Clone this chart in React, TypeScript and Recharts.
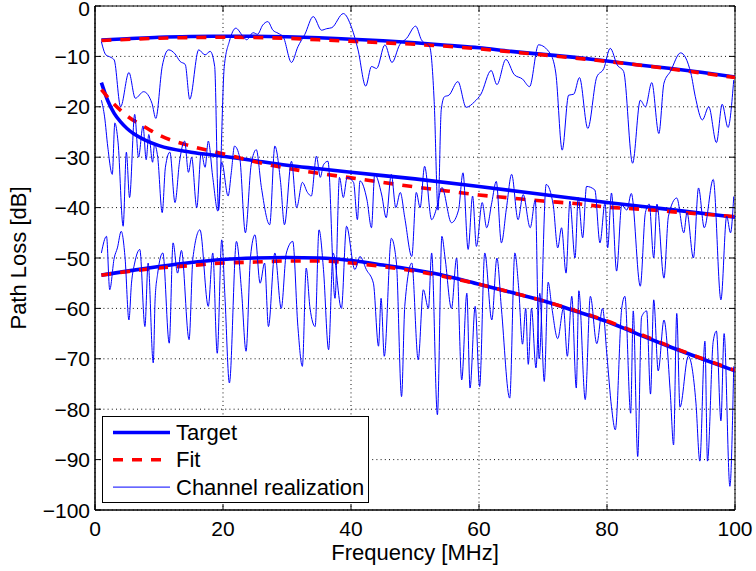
import React from 'react';
import { LineChart, Line, XAxis, YAxis, CartesianGrid, Legend, ReferenceArea, Label } from 'recharts';

const FONT = '"Liberation Sans", Arial, Helvetica, sans-serif';

// ---------- axis ticks ----------
const X_TICKS = [0, 20, 40, 60, 80, 100];
const Y_TICKS = [-100, -90, -80, -70, -60, -50, -40, -30, -20, -10, 0];

// ---------- target curves [MHz, dB] ----------
const TARGET_TOP: [number, number][] = [
  [1, -6.75], [5, -6.5], [10, -6.2], [15, -6.05], [20, -6.0], [25, -6.0], [30, -6.1], [35, -6.3],
  [40, -6.6], [45, -6.9], [50, -7.3], [55, -7.8], [60, -8.3], [65, -9.0], [70, -9.6], [75, -10.2],
  [80, -10.9], [85, -11.7], [90, -12.4], [95, -13.2], [100, -14.1],
];
const TARGET_MID: [number, number][] = [
  [1, -15.2], [2, -18.8], [3, -21.3], [4, -23.0], [5, -24.3], [6, -25.3], [8, -26.7], [10, -27.7],
  [15, -29.0], [20, -29.8], [25, -30.7], [30, -31.6], [35, -32.3], [40, -33.0], [50, -34.3],
  [60, -35.8], [70, -37.4], [80, -39.0], [90, -40.4], [100, -41.9],
];
const TARGET_LOW: [number, number][] = [
  [1, -53.4], [5, -52.6], [10, -51.7], [15, -50.9], [20, -50.3], [25, -50.0], [30, -49.9], [35, -50.0],
  [40, -50.5], [45, -51.4], [50, -52.4], [55, -53.6], [60, -55.2], [65, -56.8], [70, -58.5], [75, -60.5],
  [80, -62.6], [85, -65.2], [90, -67.7], [95, -70.1], [100, -72.4],
];

// ---------- fitted curves ----------
const FIT_TOP: [number, number][] = [
  [1, -6.85], [10, -6.4], [20, -6.2], [30, -6.4], [35, -6.7], [40, -7.0], [45, -7.3], [50, -7.6],
  [55, -8.0], [60, -8.5], [65, -9.1], [70, -9.7], [80, -11.0], [90, -12.5], [100, -14.2],
];
const FIT_MID: [number, number][] = [
  [1, -16.6], [3, -19.5], [5, -21.8], [7.5, -23.8], [10, -25.6], [15, -27.8], [20, -29.3], [25, -30.9],
  [30, -32.2], [35, -33.2], [40, -34.1], [45, -35.0], [50, -35.9], [55, -36.7], [60, -37.5], [65, -38.1],
  [70, -38.7], [75, -39.2], [80, -39.9], [85, -40.3], [90, -40.8], [95, -41.3], [100, -41.8],
];
const FIT_LOW: [number, number][] = [
  [1, -53.4], [5, -52.7], [10, -52.0], [15, -51.5], [20, -51.0], [25, -50.8], [30, -50.6], [35, -50.6],
  [40, -51.0], [45, -51.7], [50, -52.6], [55, -53.8], [60, -55.2], [65, -56.8], [70, -58.5], [75, -60.4],
  [80, -62.5], [85, -65.0], [90, -67.6], [95, -70.0], [100, -72.3],
];

// ---------- channel realizations ----------
const REAL_TOP: [number, number][] = [
  [1.0, -7.1], [1.7, -9.7], [2.5, -10.2], [3.0, -10.7], [4.0, -20.0], [5.3, -13.2], [6.3, -18.3], [7.6, -17.0],
  [8.9, -19.3], [9.5, -22.3], [10.5, -12.0], [11.5, -8.7], [12.5, -9.5], [13.3, -11.0], [14.1, -11.6], [14.8, -18.5],
  [16.2, -8.7], [17.2, -9.7], [18.0, -9.0], [18.7, -12.0], [19.3, -40.5], [20.2, -12.0], [21.0, -7.0], [22.0, -4.4],
  [23.0, -5.8], [23.7, -6.7], [24.7, -5.3], [25.4, -5.6], [26.2, -3.8], [27.0, -3.1], [27.8, -4.8], [28.6, -5.4],
  [29.4, -6.1], [30.7, -11.2], [31.7, -8.1], [32.8, -5.6], [34.1, -2.1], [35.4, -4.8], [36.2, -4.5], [37.0, -4.3],
  [38.8, -1.5], [40.1, -4.3], [41.1, -8.7], [42.3, -15.9], [43.2, -12.0], [44.0, -12.4], [45.3, -7.7], [46.4, -11.2],
  [47.6, -7.7], [48.7, -6.4], [50.1, -4.0], [51.0, -6.7], [52.3, -8.1], [53.0, -19.0], [53.6, -40.5], [54.1, -20.6],
  [54.6, -18.0], [55.3, -17.7], [56.7, -15.0], [58.0, -20.1], [59.3, -19.0], [60.3, -17.5], [61.9, -12.8], [62.8, -15.6],
  [64.2, -10.6], [65.5, -13.6], [66.8, -14.5], [67.9, -16.0], [69.3, -7.7], [71.1, -9.4], [72.0, -13.3], [73.0, -28.6],
  [74.0, -17.7], [74.8, -17.5], [75.7, -14.2], [77.0, -24.3], [78.4, -14.1], [79.5, -12.4], [80.5, -8.4], [81.6, -11.7],
  [82.6, -13.0], [84.0, -31.2], [85.2, -18.7], [86.0, -20.0], [87.0, -15.2], [88.1, -25.3], [88.9, -15.3], [89.9, -13.0],
  [91.5, -9.3], [93.1, -13.3], [93.8, -18.0], [94.9, -22.6], [95.9, -20.0], [97.1, -27.1], [98.0, -19.5], [98.9, -24.1],
  [99.8, -14.7],
];
const REAL_MID: [number, number][] = [
  [1.0, -18.7], [1.5, -22.0], [2.0, -28.0], [2.7, -33.4], [3.1, -23.2], [3.6, -27.0], [4.4, -43.7], [4.9, -29.0],
  [5.4, -38.0], [6.2, -21.5], [6.8, -30.0], [7.5, -23.8], [8.0, -30.5], [8.4, -25.5], [9.0, -31.0], [9.3, -27.5],
  [9.8, -30.0], [10.5, -41.0], [11.0, -32.0], [11.7, -29.0], [12.5, -39.0], [13.2, -31.0], [14.0, -26.8], [14.6, -33.0],
  [15.1, -30.0], [15.9, -40.0], [16.6, -29.0], [17.2, -32.0], [17.7, -26.8], [18.4, -34.0], [19.2, -40.7], [19.8, -31.0],
  [20.8, -37.7], [21.3, -33.0], [21.8, -27.8], [22.6, -30.0], [23.5, -45.0], [24.4, -31.5], [25.2, -28.5], [26.0, -36.0],
  [27.3, -43.4], [28.1, -27.8], [29.0, -35.0], [29.6, -43.4], [30.7, -30.8], [31.5, -40.0], [32.4, -35.0], [33.2, -37.0],
  [33.8, -37.7], [34.6, -29.8], [35.2, -34.0], [35.7, -31.5], [36.4, -30.8], [37.5, -58.0], [38.2, -34.0], [38.8, -38.0],
  [39.4, -34.0], [40.4, -35.0], [41.0, -42.4], [41.4, -34.7], [42.5, -38.5], [43.2, -44.0], [43.7, -33.4], [44.8, -37.5],
  [45.5, -42.0], [46.3, -33.4], [47.0, -40.0], [47.7, -37.0], [48.4, -42.0], [49.5, -49.7], [50.2, -37.0], [50.8, -40.0],
  [51.5, -31.8], [52.6, -42.4], [53.4, -40.0], [54.2, -36.0], [55.7, -43.0], [56.8, -40.5], [57.5, -33.1], [58.3, -48.3],
  [59.0, -37.7], [59.6, -47.7], [60.5, -39.0], [61.2, -44.0], [62.0, -39.0], [62.7, -34.8], [63.5, -47.0], [64.3, -40.0],
  [65.1, -33.4], [66.1, -42.4], [66.9, -37.4], [68.0, -44.0], [68.8, -38.5], [69.4, -70.0], [70.5, -35.4], [71.6, -39.5],
  [72.3, -48.0], [72.9, -44.0], [73.6, -53.0], [74.2, -38.7], [75.0, -50.0], [75.5, -38.0], [76.2, -46.0], [76.8, -35.8],
  [78.1, -36.5], [78.9, -47.0], [79.7, -39.0], [80.1, -48.0], [80.7, -37.1], [81.5, -52.6], [82.3, -39.5], [83.1, -40.5],
  [83.8, -37.2], [85.2, -55.6], [86.0, -41.0], [86.6, -39.3], [87.3, -50.0], [87.8, -39.3], [88.9, -54.0], [89.6, -41.7],
  [90.9, -38.1], [92.0, -45.0], [92.5, -41.0], [93.5, -50.0], [94.3, -36.1], [95.2, -44.0], [96.6, -34.4], [97.8, -58.3],
  [98.7, -41.7], [99.3, -45.0], [99.8, -37.8],
];
const REAL_LOW: [number, number][] = [
  [1.0, -49.0], [1.8, -45.7], [2.3, -56.3], [3.0, -50.0], [3.5, -48.0], [4.1, -44.7], [4.7, -50.0], [5.3, -62.3],
  [5.7, -55.0], [6.2, -51.0], [7.0, -48.3], [7.8, -63.6], [8.3, -51.0], [9.1, -70.8], [9.4, -58.0], [9.8, -53.0],
  [10.6, -49.0], [11.6, -66.9], [12.2, -47.0], [12.9, -53.0], [13.5, -48.5], [14.7, -66.2], [15.3, -50.0], [16.4, -44.4],
  [17.7, -59.6], [18.4, -49.0], [19.1, -68.9], [19.8, -46.4], [20.3, -57.6], [21.0, -74.8], [22.1, -46.7], [22.9, -56.6],
  [23.6, -68.5], [24.3, -49.7], [25.0, -45.4], [25.8, -55.0], [26.5, -51.0], [27.1, -63.6], [28.1, -49.0], [29.1, -60.0],
  [29.9, -49.0], [30.9, -46.7], [31.7, -63.6], [32.4, -71.5], [33.0, -52.0], [33.6, -60.0], [34.4, -63.6], [35.0, -44.4],
  [35.7, -52.3], [36.5, -68.2], [37.2, -49.0], [38.5, -60.0], [39.3, -43.7], [40.6, -52.3], [41.4, -49.7], [42.4, -52.3],
  [43.5, -55.0], [44.3, -67.5], [44.7, -58.0], [45.2, -69.5], [46.3, -46.1], [47.1, -51.0], [47.9, -77.5], [48.4, -59.6],
  [49.5, -51.0], [50.5, -70.2], [51.3, -56.3], [52.1, -60.0], [52.6, -49.0], [53.5, -81.1], [54.2, -45.7], [54.7, -50.0],
  [55.7, -60.0], [56.5, -50.0], [57.3, -74.2], [58.1, -57.0], [58.6, -75.8], [59.4, -59.6], [60.1, -75.5], [60.9, -49.0],
  [62.0, -62.3], [62.8, -50.0], [63.5, -60.0], [64.8, -77.8], [65.6, -49.0], [66.2, -56.0], [66.8, -67.1], [67.3, -60.0],
  [67.7, -71.1], [68.2, -60.0], [68.9, -71.8], [69.5, -57.0], [70.2, -74.5], [70.8, -54.8], [71.4, -60.0], [72.3, -66.0],
  [73.2, -60.0], [73.8, -69.5], [74.5, -57.6], [75.2, -75.8], [75.6, -56.5], [76.6, -78.1], [77.4, -57.6], [78.4, -67.0],
  [79.3, -60.0], [80.0, -69.5], [80.7, -79.5], [81.3, -84.1], [82.3, -60.0], [82.8, -57.6], [83.7, -80.8], [84.1, -60.5],
  [84.8, -89.4], [85.4, -61.7], [86.2, -60.5], [86.8, -77.0], [87.3, -58.3], [88.0, -72.4], [88.9, -62.3], [89.9, -77.0],
  [90.4, -87.1], [90.9, -61.0], [91.4, -79.6], [92.7, -69.5], [93.9, -78.8], [94.5, -90.3], [95.3, -66.5], [95.7, -90.3],
  [96.6, -66.5], [97.1, -64.5], [97.8, -82.3], [98.3, -65.0], [99.2, -95.3], [99.8, -71.5],
];

const LEGEND_ORDER = ['Target', 'Fit', 'Channel realization'];

const toPts = (arr: [number, number][]) => arr.map(([f, v]) => ({ f, v }));

// plot frame (derived from chart margins + axis sizes)
const W = 756;
const H = 571;
const MARGIN = { top: 6, right: 21, bottom: 0, left: 0 };
const Y_AXIS_W = 95;
const X_AXIS_H = 61;
const PLOT = {
  left: MARGIN.left + Y_AXIS_W,
  right: W - MARGIN.right,
  top: MARGIN.top,
  bottom: H - MARGIN.bottom - X_AXIS_H,
};
const TICK_LEN = 6;
const TICK_FS = 21;
const LABEL_FS = 22;

const fmt = (v: number) => (v < 0 ? `\u2212${Math.abs(v)}` : `${v}`);

function XTick(props: any) {
  const { x, payload } = props;
  return (
    <g>
      <line x1={x} x2={x} y1={PLOT.bottom} y2={PLOT.bottom - TICK_LEN} stroke="#000" strokeWidth={1} />
      <line x1={x} x2={x} y1={PLOT.top} y2={PLOT.top + TICK_LEN} stroke="#000" strokeWidth={1} />
      <text x={x} y={PLOT.bottom + 26} textAnchor="middle" fontSize={TICK_FS} fontFamily={FONT} fill="#000">
        {fmt(payload.value)}
      </text>
    </g>
  );
}

function YTick(props: any) {
  const { y, payload } = props;
  const isTop = Math.abs(y - PLOT.top) < 1;
  return (
    <g>
      <line x1={PLOT.left} x2={PLOT.left + TICK_LEN} y1={y} y2={y} stroke="#000" strokeWidth={1} />
      <line x1={PLOT.right} x2={PLOT.right - TICK_LEN} y1={y} y2={y} stroke="#000" strokeWidth={1} />
      <text x={PLOT.left - 5} y={y + (isTop ? 10 : 7.5)} textAnchor="end" fontSize={TICK_FS} fontFamily={FONT} fill="#000">
        {fmt(payload.value)}
      </text>
    </g>
  );
}

function YLabel(props: any) {
  const vb = props.viewBox || {};
  const cx = 26;
  const cy = (vb.y ?? PLOT.top) + (vb.height ?? PLOT.bottom - PLOT.top) / 2;
  return (
    <text x={cx} y={cy} transform={`rotate(-90 ${cx} ${cy})`} textAnchor="middle" fontSize={LABEL_FS} fontFamily={FONT} fill="#000">
      Path Loss [dB]
    </text>
  );
}

function XLabel(props: any) {
  const vb = props.viewBox || {};
  const cx = (vb.x ?? PLOT.left) + (vb.width ?? PLOT.right - PLOT.left) / 2;
  return (
    <text x={cx} y={560} textAnchor="middle" fontSize={LABEL_FS} fontFamily={FONT} fill="#000">
      Frequency [MHz]
    </text>
  );
}

function LegendBox(props: any) {
  const payload: any[] = props.payload || [];
  const items = LEGEND_ORDER.map((n) => payload.find((p) => p.value === n)).filter(Boolean);
  const w = 267;
  const h = 87;
  return (
    <div style={{ width: w, height: h, background: '#fff', border: '1px solid #000', boxSizing: 'border-box' }}>
      <svg width={w - 2} height={h - 2} style={{ display: 'block' }}>
        {items.map((it: any, i: number) => {
          const cy = 15.5 + i * 27.3;
          const p = it.payload || {};
          return (
            <g key={it.value}>
              <line x1={10} x2={67} y1={cy} y2={cy} stroke={it.color} strokeWidth={p.strokeWidth || 1}
                strokeDasharray={p.strokeDasharray} />
              <text x={73} y={cy + 7.5} fontSize={LABEL_FS} fontFamily={FONT} fill="#000">{it.value}</text>
            </g>
          );
        })}
      </svg>
    </div>
  );
}

const BLUE = '#0000ff';
const RED = '#ff0000';
const TARGET_W = 3.6;
const FIT_W = 3.6;
const FIT_DASH = '10 9';
const REAL_W = 1;

export default function App() {
  return (
    <div style={{ position: 'absolute', left: 0, top: 0, background: '#fff' }}>
      <LineChart width={W} height={H} margin={MARGIN}>
        <CartesianGrid stroke="#111" strokeDasharray="1 3.2" strokeWidth={1} />
        <XAxis
          type="number"
          dataKey="f"
          domain={[0, 100]}
          ticks={X_TICKS}
          height={X_AXIS_H}
          axisLine={{ stroke: '#000' }}
          tickLine={false}
          tick={<XTick />}
          interval={0}
          allowDataOverflow
        >
          <Label content={<XLabel />} />
        </XAxis>
        <YAxis
          type="number"
          domain={[-100, 0]}
          ticks={Y_TICKS}
          width={Y_AXIS_W}
          axisLine={{ stroke: '#000' }}
          tickLine={false}
          tick={<YTick />}
          interval={0}
          allowDataOverflow
        >
          <Label content={<YLabel />} />
        </YAxis>
        <ReferenceArea x1={0} x2={100} y1={-100} y2={0} fill="none" stroke="#000" strokeWidth={1} />

        <Line data={toPts(TARGET_TOP)} dataKey="v" name="Target" type="monotone" stroke={BLUE} strokeWidth={TARGET_W} dot={false} activeDot={false} isAnimationActive={false} />
        <Line data={toPts(TARGET_MID)} dataKey="v" name="Target mid" legendType="none" type="monotone" stroke={BLUE} strokeWidth={TARGET_W} dot={false} activeDot={false} isAnimationActive={false} />
        <Line data={toPts(TARGET_LOW)} dataKey="v" name="Target low" legendType="none" type="monotone" stroke={BLUE} strokeWidth={TARGET_W} dot={false} activeDot={false} isAnimationActive={false} />

        <Line data={toPts(FIT_TOP)} dataKey="v" name="Fit" type="monotone" stroke={RED} strokeWidth={FIT_W} strokeDasharray={FIT_DASH} dot={false} activeDot={false} isAnimationActive={false} />
        <Line data={toPts(FIT_MID)} dataKey="v" name="Fit mid" legendType="none" type="monotone" stroke={RED} strokeWidth={FIT_W} strokeDasharray={FIT_DASH} dot={false} activeDot={false} isAnimationActive={false} />
        <Line data={toPts(FIT_LOW)} dataKey="v" name="Fit low" legendType="none" type="monotone" stroke={RED} strokeWidth={FIT_W} strokeDasharray={FIT_DASH} dot={false} activeDot={false} isAnimationActive={false} />

        <Line data={toPts(REAL_TOP)} dataKey="v" name="Channel realization" type="monotone" stroke={BLUE} strokeWidth={REAL_W} dot={false} activeDot={false} isAnimationActive={false} />
        <Line data={toPts(REAL_MID)} dataKey="v" name="Channel realization mid" legendType="none" type="monotone" stroke={BLUE} strokeWidth={REAL_W} dot={false} activeDot={false} isAnimationActive={false} />
        <Line data={toPts(REAL_LOW)} dataKey="v" name="Channel realization low" legendType="none" type="monotone" stroke={BLUE} strokeWidth={REAL_W} dot={false} activeDot={false} isAnimationActive={false} />

        <Legend
          layout="horizontal"
          verticalAlign="middle"
          align="center"
          content={<LegendBox />}
          wrapperStyle={{ left: 102, top: 416, width: 267, height: 87 }}
        />
      </LineChart>
    </div>
  );
}
